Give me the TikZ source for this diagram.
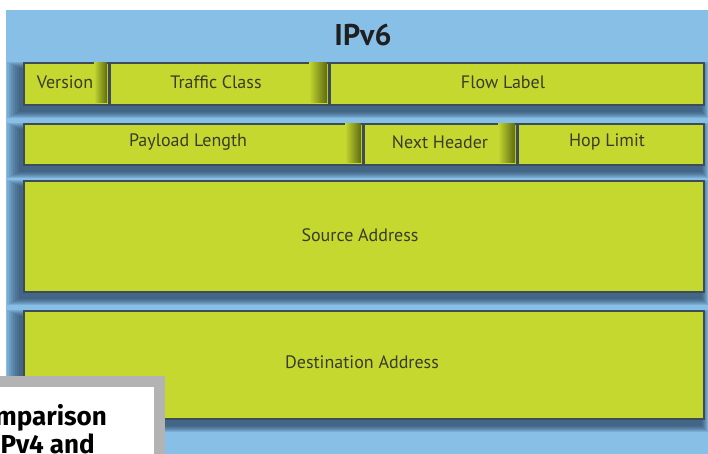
\documentclass[tikz,border=0pt]{standalone}
\usepackage{fontspec}
\setmainfont{PT Sans}
\newfontfamily\capfont{Fira Sans}
\definecolor{bgblue}{HTML}{88BFE6}
\definecolor{fgreen}{HTML}{C5D82F}
\definecolor{bordc}{HTML}{3D4C57}
\definecolor{shadc}{HTML}{1C3350}
\definecolor{olivedk}{HTML}{5E6B12}
\definecolor{txtc}{HTML}{3A3C2A}
\definecolor{framegray}{HTML}{B3B3B3}
\pgfdeclarelayer{bglayer}
\pgfdeclarelayer{shadowlayer}
\pgfsetlayers{bglayer,shadowlayer,main}
\newcommand\rowshadow[2]{%
  \begin{pgfonlayer}{shadowlayer}
  \foreach \i in {1,...,7} {%
    \fill[shadc, opacity=0.13]
      ([xshift={-(2*\i+2)*1pt}, yshift={(\i-7)*1pt}]#1.north west)
      rectangle ([xshift={(\i-4)*1pt}, yshift={(-5-\i)*1pt}]#2.south east);
  }
  \end{pgfonlayer}}
\tikzset{
  fld/.style={draw=bordc, line width=2pt, fill=fgreen, anchor=north west,
    inner sep=0pt},
  lbl/.style={text=txtc, font=\fontsize{18}{20}\selectfont, inner sep=0pt},
  endshade/.style={left color=fgreen, right color=olivedk},
  capstyle/.style={anchor=base east, inner sep=0pt, text=black,
    font=\capfont\bfseries\fontsize{26}{28}\selectfont}
}
\begin{document}
\begin{tikzpicture}[x=1pt,y=-1pt]
\useasboundingbox (0,0) rectangle (708,454);
\begin{pgfonlayer}{bglayer}
\fill[white] (0,0) rectangle (708,454);
\fill[bgblue] (6,10) rectangle (708,454);
\end{pgfonlayer}
\node[font=\bfseries\fontsize{30}{32}\selectfont, text=black!88] (title) at (363,35) {IPv6};
% row 1
\node[fld, minimum width=85pt, minimum height=42pt] (ver) at (23,62) {};
\node[fld, minimum width=220pt, minimum height=42pt] (tc) at (108,62) {};
\node[fld, minimum width=375pt, minimum height=42pt] (fl) at (328,62) {};
\shade[endshade] (94,63) rectangle (107,103);
\shade[endshade] (309,63) rectangle (327,103);
\draw[bordc, line width=2pt] (ver.north east) -- (ver.south east);
\draw[bordc, line width=2pt] (tc.north east) -- (tc.south east);
% row 2
\node[fld, minimum width=339pt, minimum height=41pt] (pl) at (23,123) {};
\node[fld, minimum width=154pt, minimum height=41pt] (nh) at (362,123) {};
\node[fld, minimum width=187pt, minimum height=41pt] (hl) at (516,123) {};
\shade[endshade] (345,124) rectangle (361,163);
\shade[endshade] (498,124) rectangle (515,163);
\draw[bordc, line width=2pt] (pl.north east) -- (pl.south east);
\draw[bordc, line width=2pt] (nh.north east) -- (nh.south east);
% rows 3,4
\node[fld, minimum width=680pt, minimum height=111pt] (src) at (23,180) {};
\node[fld, minimum width=680pt, minimum height=108pt] (dst) at (23,310) {};
% shadows
\rowshadow{ver}{fl}
\rowshadow{pl}{hl}
\rowshadow{src}{src}
\rowshadow{dst}{dst}
% labels
\node[lbl] (tver) at (65,82) {Version};
\node[lbl] (ttc) at (216,82) {Traffic Class};
\node[lbl] (tfl) at (503,82) {Flow Label};
\node[lbl] (tpl) at (188,142) {Payload Length};
\node[lbl] (tnh) at (440,142) {Next Header};
\node[lbl] (thl) at (607,142) {Hop Limit};
\node[lbl] (tsrc) at (360,235) {Source Address};
\node[lbl] (tdst) at (362,362) {Destination Address};
% caption box (cut by the picture's edge, as in the reference)
\fill[framegray] (0,376) rectangle (165,454);
\fill[white] (0,387) rectangle (154,454);
\begin{scope}
\clip (0,387) rectangle (154,454);
\node[capstyle] (cap1) at (107,425) {Comparison};
\node[capstyle] (cap2) at (95,453) {IPv4 and};
\end{scope}
\end{tikzpicture}
\end{document}
